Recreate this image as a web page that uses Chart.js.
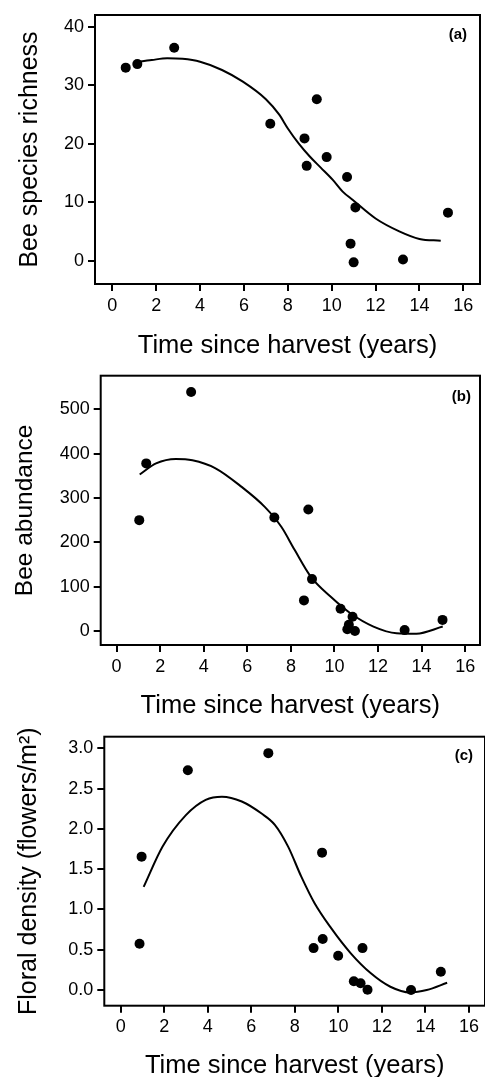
<!DOCTYPE html>
<html>
<head>
<meta charset="utf-8">
<script src="https://cdn.jsdelivr.net/npm/chart.js@4"></script>
<style>
  html, body { margin: 0; padding: 0; background: #fff; overflow: hidden; }
  .panel { position: absolute; left: 0; }
  canvas { display: block; }
</style>
</head>
<body>
<div class="panel" style="top:0px"><canvas id="chA" width="485" height="360"></canvas></div>
<div class="panel" style="top:360px"><canvas id="chB" width="485" height="360"></canvas></div>
<div class="panel" style="top:720px"><canvas id="chC" width="490" height="357"></canvas></div>
<script>
// Bee richness / abundance / floral density vs time since harvest, three stacked panels.
const FONT = '"Liberation Sans", Arial, sans-serif';
const xTicks = [0, 2, 4, 6, 8, 10, 12, 14, 16];

// (a) bee species richness
const timeA = [0.61, 1.14, 2.82, 7.2, 8.76, 8.86, 9.32, 9.77, 10.7, 11.08, 10.86, 11.0, 13.25, 15.3];
const richness = [33.0, 33.6, 36.4, 23.4, 20.9, 16.2, 27.6, 17.7, 14.3, 9.1, 2.9, -0.3, 0.2, 8.2];
const fitAx = [1.03, 1.8, 2.5, 3.2, 4.0, 5.0, 5.95, 7.0, 7.6, 8.0, 8.5, 9.0, 9.5, 10.05, 10.5, 10.95, 12.0, 13.08, 14.0, 14.97];
const fitAy = [33.9, 34.3, 34.6, 34.5, 34.0, 32.6, 30.6, 27.6, 25.0, 22.6, 20.0, 17.8, 15.9, 13.8, 11.8, 10.4, 7.2, 5.0, 3.7, 3.4];
const yTicksA = [0, 10, 20, 30, 40];

// (b) bee abundance
const timeB = [1.04, 1.36, 3.42, 7.24, 8.8, 8.6, 8.97, 10.28, 10.83, 10.66, 10.59, 10.94, 13.22, 14.96];
const abundance = [250, 378, 539, 256, 274, 69, 117, 50, 32, 14, 4, 0, 2, 25];
const fitBx = [1.06, 1.81, 2.72, 3.48, 4.54, 5.74, 6.8, 7.56, 8.17, 8.92, 9.83, 10.73, 11.79, 12.85, 13.76, 14.97];
const fitBy = [353, 378, 388, 385, 367, 325, 280, 235, 183, 122, 77, 40, 10, -5, -6, 10];
const yTicksB = [0, 100, 200, 300, 400, 500];

// (c) floral density
const timeC = [0.86, 0.955, 3.08, 6.78, 8.86, 9.25, 9.28, 9.99, 10.71, 11.02, 11.11, 11.34, 13.34, 14.71];
const floral = [0.575, 1.655, 2.727, 2.94, 0.52, 1.705, 0.633, 0.426, 0.108, 0.083, 0.52, 0.004, 0.0, 0.227];
const fitCx = [1.05, 1.92, 2.99, 3.9, 4.65, 5.56, 6.47, 7.08, 7.69, 8.29, 8.9, 9.66, 10.57, 11.48, 12.39, 13.3, 14.06, 15.0];
const fitCy = [1.28, 1.78, 2.17, 2.36, 2.40, 2.34, 2.19, 2.05, 1.78, 1.41, 1.08, 0.77, 0.455, 0.21, 0.04, -0.03, 0.0, 0.09];
const yTicksC = [0, 0.5, 1.0, 1.5, 2.0, 2.5, 3.0];

const pairs = (xs, ys) => xs.map((x, i) => ({ x, y: ys[i] }));

// frame round the plot area + panel letter
const framePlugin = {
  id: "frame",
  afterDraw(chart, args, o) {
    const { ctx, chartArea: a } = chart;
    ctx.save();
    ctx.strokeStyle = "#000"; ctx.lineWidth = 2;
    ctx.strokeRect(a.left, a.top, a.right - a.left, a.bottom - a.top);
    ctx.fillStyle = "#000";
    ctx.font = "bold 15px " + FONT;
    ctx.textAlign = "right"; ctx.textBaseline = "middle";
    ctx.fillText(o.tag, a.right - o.dx, a.top + o.dy);
    ctx.restore();
  },
};

function panel(id, cfg) {
  const tickFont = { family: FONT, size: 18 };
  return new Chart(document.getElementById(id), {
    type: "scatter",
    data: { datasets: [
      { data: pairs(cfg.fx, cfg.fy), showLine: true, borderColor: "#000", borderWidth: 2, pointRadius: 0,
        cubicInterpolationMode: "monotone", order: 2 },
      { data: pairs(cfg.px, cfg.py), backgroundColor: "#000", borderColor: "#000", pointRadius: 5, borderWidth: 0, order: 1 },
    ] },
    options: {
      responsive: false, animation: false, devicePixelRatio: 1,
      layout: { padding: cfg.pad },
      plugins: { legend: { display: false }, tooltip: { enabled: false },
        frame: { tag: cfg.tag, dx: cfg.tagDx, dy: cfg.tagDy } },
      scales: {
        x: {
          min: cfg.xmin, max: cfg.xmax,
          afterBuildTicks: (s) => { s.ticks = xTicks.map((v) => ({ value: v })); },
          afterFit: (s) => { s.height = cfg.xh; },
          grid: { drawOnChartArea: false, drawTicks: true, tickLength: 7, lineWidth: 2, color: "#000" },
          border: { display: false },
          ticks: { color: "#000", font: tickFont, padding: 4, maxRotation: 0 },
          title: { display: true, text: "Time since harvest (years)", color: "#000", font: { family: FONT, size: 25.5 },
            padding: { top: 0, bottom: cfg.xtPad } },
        },
        y: {
          min: cfg.ymin, max: cfg.ymax,
          afterBuildTicks: (s) => { s.ticks = cfg.yt.map((v) => ({ value: v })); },
          afterFit: (s) => { s.width = cfg.yw; },
          grid: { drawOnChartArea: false, drawTicks: true, tickLength: 7, lineWidth: 2, color: "#000" },
          border: { display: false },
          ticks: { color: "#000", font: tickFont, padding: 4, callback: cfg.fmt },
          title: { display: true, text: cfg.ytitle, color: "#000", font: { family: FONT, size: cfg.ytSize },
            padding: { top: cfg.ytPad, bottom: 0 } },
        },
      },
    },
    plugins: [framePlugin],
  });
}

Chart.defaults.font.family = FONT;

panel("chA", {
  px: timeA, py: richness, fx: fitAx, fy: fitAy, yt: yTicksA,
  xmin: -0.79, xmax: 16.76, ymin: -4.0, ymax: 42.0,
  pad: { left: 0, top: 15, right: 4, bottom: 0 }, yw: 95, xh: 76, xtPad: -1, ytPad: 15, ytSize: 25,
  ytitle: "Bee species richness", fmt: (v) => String(v), tag: "(a)", tagDx: 13, tagDy: 20,
});
panel("chB", {
  px: timeB, py: abundance, fx: fitBx, fy: fitBy, yt: yTicksB,
  xmin: -0.73, xmax: 16.68, ymin: -31.6, ymax: 575.8,
  pad: { left: 0, top: 15.7, right: 1, bottom: 0 }, yw: 100.7, xh: 75, xtPad: -1, ytPad: 10.5, ytSize: 24.5,
  ytitle: "Bee abundance", fmt: (v) => String(v), tag: "(b)", tagDx: 9, tagDy: 21,
});
panel("chC", {
  px: timeC, py: floral, fx: fitCx, fy: fitCy, yt: yTicksC,
  xmin: -0.76, xmax: 16.74, ymin: -0.195, ymax: 3.144,
  pad: { left: 0, top: 16.7, right: 1, bottom: 0 }, yw: 104.3, xh: 71.3, xtPad: -4, ytPad: 14.5, ytSize: 25,
  ytitle: "Floral density (flowers/m²)", fmt: (v) => v.toFixed(1), tag: "(c)", tagDx: 12, tagDy: 19,
});
</script>
</body>
</html>
